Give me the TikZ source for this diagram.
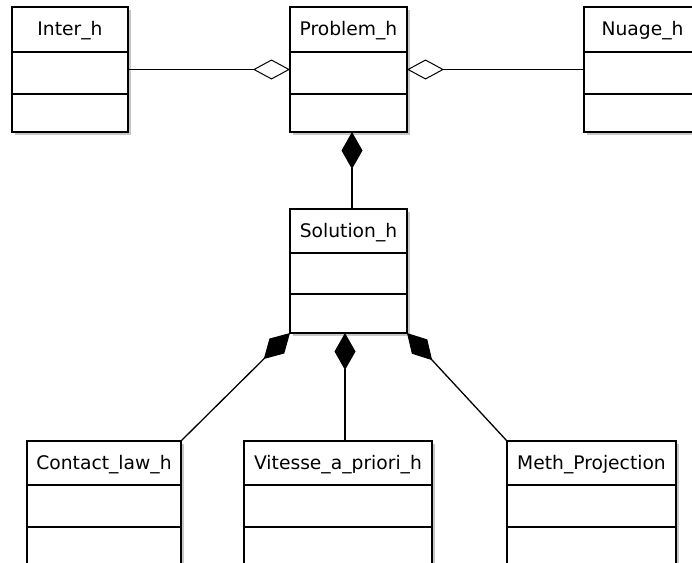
\documentclass[tikz,border=0pt]{standalone}
\usepackage{fontspec}
\setmainfont{DejaVu Sans}
\usetikzlibrary{arrows.meta}
\tikzset{
  classbox/.style={draw, line width=1.3pt, rectangle, inner sep=0pt, outer sep=0pt, anchor=north west, fill=white},
  classname/.style={anchor=base, inner sep=0pt, font=\fontsize{18.7}{21}\selectfont},
  divider/.style={line width=1.3pt},
  shadowline/.style={draw=black!22, line width=1.2pt},
  conn/.style={line width=1.3pt},
  aggr/.style={conn, {Diamond[open, length=37pt, width=20pt, line width=1pt]}-},
  comp/.style={conn, {Diamond[length=37pt, width=21pt]}-},
}
\newcommand{\umlclass}[8]{% name, x, y, w, h, label, div1, div2
  \draw[shadowline] (#2+#4+2,#3+3) -- (#2+#4+2,#3+#5+2) -- (#2+3,#3+#5+2);
  \node[classbox, minimum width=#4pt, minimum height=#5pt] (#1) at (#2,#3) {};
  \node[classname] (#1-label) at ([yshift=-28pt]#1.north) {#6};
  \draw[divider] ([yshift=-#7pt]#1.north west) -- ([yshift=-#7pt]#1.north east);
  \draw[divider] ([yshift=-#8pt]#1.north west) -- ([yshift=-#8pt]#1.north east);
}
\begin{document}
\begin{tikzpicture}[x=1pt, y=-1pt]
\useasboundingbox (0,0) rectangle (692,562);
\clip (0,0) rectangle (692,562);
\fill[white] (0,0) rectangle (692,562);

\umlclass{inter}{12}{7}{116}{125}{Inter\_h}{45}{87}
\umlclass{problem}{290}{7}{117}{125}{Problem\_h}{45}{87}
\umlclass{nuage}{584}{7}{117}{125}{Nuage\_h}{45}{87}
\umlclass{solution}{290}{209}{117}{124}{Solution\_h}{44}{85}
\umlclass{contact}{27}{441}{154}{125}{Contact\_law\_h}{44}{86}
\umlclass{vitesse}{244}{441}{188}{125}{Vitesse\_a\_priori\_h}{44}{86}
\umlclass{meth}{507}{441}{169}{125}{Meth\_Projection}{44}{86}

% aggregations
\draw[aggr] (problem.west) -- (inter.east);
\draw[aggr] (problem.east) -- (nuage.west);

% compositions
\coordinate (pbot) at ([xshift=3.5pt]problem.south);
\coordinate (stop) at ([xshift=3.5pt]solution.north);
\draw[comp] (pbot) -- (stop);

\coordinate (sbot) at (345,333);
\coordinate (vtop) at (345,441);
\draw[comp] (solution.south west) -- (contact.north east);
\draw[comp] (sbot) -- (vtop);
\draw[comp] (solution.south east) -- (meth.north west);
\end{tikzpicture}
\end{document}
